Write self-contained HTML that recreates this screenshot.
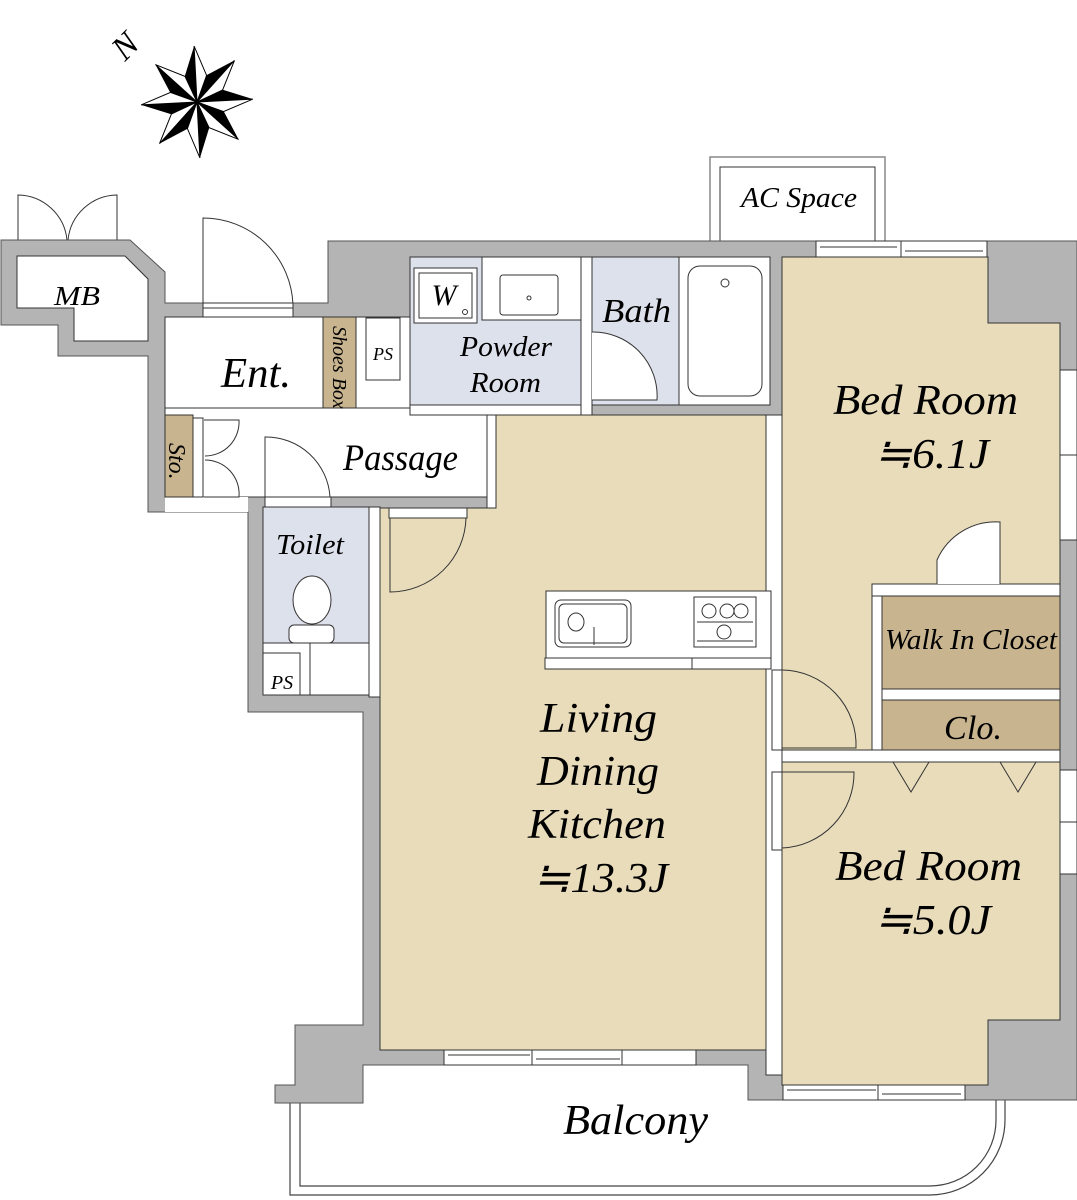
<!DOCTYPE html>
<html><head><meta charset="utf-8"><style>
html,body{margin:0;padding:0;background:#fff;}
svg{display:block}
text{font-family:"Liberation Serif",serif;font-style:italic;fill:#000}
</style></head><body>
<svg width="1077" height="1200" viewBox="0 0 1077 1200" xmlns="http://www.w3.org/2000/svg">
<!-- compass -->
<g transform="translate(197,102) rotate(-3)" stroke-linejoin="miter">
 <g><polygon points="0,0 0,-56 -11,-26" fill="#000"/><polygon points="0,0 0,-56 11,-26" fill="#fff" stroke="#000" stroke-width="1"/></g>
 <g transform="rotate(45)"><polygon points="0,0 0,-56 -11,-26" fill="#000"/><polygon points="0,0 0,-56 11,-26" fill="#fff" stroke="#000"/></g>
 <g transform="rotate(90)"><polygon points="0,0 0,-56 -11,-26" fill="#000"/><polygon points="0,0 0,-56 11,-26" fill="#fff" stroke="#000"/></g>
 <g transform="rotate(135)"><polygon points="0,0 0,-56 -11,-26" fill="#000"/><polygon points="0,0 0,-56 11,-26" fill="#fff" stroke="#000"/></g>
 <g transform="rotate(180)"><polygon points="0,0 0,-56 -11,-26" fill="#000"/><polygon points="0,0 0,-56 11,-26" fill="#fff" stroke="#000"/></g>
 <g transform="rotate(225)"><polygon points="0,0 0,-56 -11,-26" fill="#000"/><polygon points="0,0 0,-56 11,-26" fill="#fff" stroke="#000"/></g>
 <g transform="rotate(270)"><polygon points="0,0 0,-56 -11,-26" fill="#000"/><polygon points="0,0 0,-56 11,-26" fill="#fff" stroke="#000"/></g>
 <g transform="rotate(315)"><polygon points="0,0 0,-56 -11,-26" fill="#000"/><polygon points="0,0 0,-56 11,-26" fill="#fff" stroke="#000"/></g>
</g>
<text x="0" y="0" font-size="34" transform="translate(125,62) rotate(-45)">N</text>

<!-- AC space -->
<rect x="710" y="157" width="175" height="90" fill="#fff" stroke="#888" stroke-width="1.5"/>
<rect x="720" y="167" width="155" height="80" fill="#fff" stroke="#333" stroke-width="1"/>
<text x="741" y="207" font-size="28" textLength="116" lengthAdjust="spacingAndGlyphs">AC Space</text>

<!-- balcony -->
<path d="M290,1100 V1195 H930 A75,75 0 0 0 1005,1120 V1100" fill="#fff" stroke="#444" stroke-width="1.2"/>
<path d="M300,1100 V1186 H930 A66,66 0 0 0 996,1120 V1100" fill="none" stroke="#444" stroke-width="1.2"/>
<text x="563" y="1134" font-size="42" textLength="145" lengthAdjust="spacingAndGlyphs">Balcony</text>

<!-- MB doors -->
<rect x="17" y="240" width="100" height="16" fill="#fff" stroke="#333"/>
<line x1="17" y1="245" x2="117" y2="245" stroke="#333"/>
<path d="M18,240 V195 A50,50 0 0 1 67,240" fill="none" stroke="#333"/>
<path d="M117,240 V195 A50,50 0 0 0 68,240" fill="none" stroke="#333"/>
<path d="M203,305 V218 A90,90 0 0 1 293,305" fill="none" stroke="#333"/>

<!-- outer wall -->
<polygon points="1,240 130,240 165,272 165,303 328,303 328,241 1077,241 1077,1100 748,1100 748,1065 363,1065 363,1103 275,1103 275,1085 295,1085 295,1025 363,1025 363,712 248,712 248,512 148,512 148,356 58,356 58,325 1,325" fill="#b4b4b4" stroke="#555" stroke-width="1"/>
<rect x="203" y="303" width="90" height="14" fill="#fff" stroke="#333"/>
<line x1="203" y1="308" x2="293" y2="308" stroke="#333"/>

<!-- MB room -->
<polygon points="17,256 125,256 148,279 148,341 74,341 74,308 17,308" fill="#fff" stroke="#333"/>
<text x="54" y="305" font-size="27" textLength="46" lengthAdjust="spacingAndGlyphs">MB</text>

<!-- Ent + passage -->
<rect x="165" y="317" width="245" height="91" fill="#fff" stroke="#333"/>
<rect x="165" y="408" width="322" height="89" fill="#fff" stroke="#333"/>
<rect x="487" y="408" width="10" height="110" fill="#fff" stroke="#333"/>
<rect x="165" y="497" width="83" height="15" fill="#fff"/>
<rect x="323" y="317" width="33" height="91" fill="#c8b48f" stroke="#333"/>
<text font-size="20" transform="translate(333,326) rotate(90)">Shoes Box</text>
<rect x="366" y="318" width="34" height="62" fill="#fff" stroke="#333"/>
<text x="383" y="360" font-size="18" text-anchor="middle">PS</text>
<text x="221" y="387" font-size="42" textLength="70" lengthAdjust="spacingAndGlyphs">Ent.</text>
<rect x="165" y="415" width="28" height="82" fill="#c8b48f" stroke="#333"/>
<text font-size="24" transform="translate(169,443) rotate(90)">Sto.</text>
<rect x="193" y="418" width="10" height="79" fill="#fff" stroke="#333"/>
<path d="M204,420 H239 A34,34 0 0 1 205,456 M204,497 H239 A34,34 0 0 0 205,460" fill="none" stroke="#333"/>
<path d="M265,497 V437 A64,64 0 0 1 330,497" fill="none" stroke="#333"/>
<text x="343" y="470" font-size="37" textLength="115" lengthAdjust="spacingAndGlyphs">Passage</text>

<!-- Toilet -->
<rect x="263" y="507" width="106" height="173" fill="#dde1ec" stroke="#333"/>
<rect x="265" y="497" width="66" height="10" fill="#fff" stroke="#333"/>
<rect x="263" y="643" width="106" height="52" fill="#fff" stroke="#333"/>
<rect x="263" y="653" width="37" height="42" fill="#fff" stroke="#333"/>
<line x1="310" y1="643" x2="310" y2="695" stroke="#333"/>
<text x="282" y="689" font-size="20" text-anchor="middle">PS</text>
<text x="276" y="554" font-size="28" textLength="68" lengthAdjust="spacingAndGlyphs">Toilet</text>
<ellipse cx="312" cy="600" rx="19" ry="24" fill="#fff" stroke="#333"/>
<rect x="289" y="625" width="45" height="18" rx="5" fill="#fff" stroke="#333"/>
<rect x="369" y="507" width="11" height="190" fill="#fff" stroke="#333"/>

<!-- Powder room -->
<rect x="410" y="257" width="171" height="148" fill="#dde1ec" stroke="#333"/>
<rect x="410" y="405" width="171" height="10" fill="#fff" stroke="#333"/>
<rect x="414" y="268" width="63" height="55" fill="#fff" stroke="#333"/>
<rect x="419" y="273" width="53" height="45" fill="#fff" stroke="#333"/>
<text x="444" y="305" font-size="30" text-anchor="middle">W</text>
<circle cx="465" cy="312" r="2.5" fill="none" stroke="#333"/>
<rect x="482" y="257" width="99" height="63" fill="#fff" stroke="#333"/>
<rect x="500" y="275" width="58" height="40" rx="3" fill="#fff" stroke="#333"/>
<circle cx="529" cy="298" r="2" fill="none" stroke="#333"/>
<text x="460" y="356" font-size="28" textLength="92" lengthAdjust="spacingAndGlyphs">Powder</text>
<text x="470" y="392" font-size="28" textLength="71" lengthAdjust="spacingAndGlyphs">Room</text>
<rect x="581" y="257" width="11" height="158" fill="#fff" stroke="#333"/>
<rect x="592" y="257" width="87" height="148" fill="#dde1ec" stroke="#333"/>
<path d="M592,332 A64,64 0 0 1 657,400 H592" fill="#fff" stroke="#333"/>
<text x="602" y="322" font-size="34" textLength="69" lengthAdjust="spacingAndGlyphs">Bath</text>
<rect x="679" y="257" width="91" height="148" fill="#fff" stroke="#333"/>
<rect x="688" y="266" width="74" height="130" rx="12" fill="#fff" stroke="#333"/>
<circle cx="725" cy="283" r="4" fill="none" stroke="#333"/>

<!-- LDK -->
<polygon points="380,508 496,508 496,415 766,415 766,1050 380,1050" fill="#e8dcbb" stroke="#333"/>
<rect x="766" y="415" width="16" height="660" fill="#fff" stroke="#333"/>
<rect x="389" y="508" width="78" height="10" fill="#fff" stroke="#333"/>
<path d="M466,518 A76,76 0 0 1 390,592 V518" fill="none" stroke="#333"/>
<rect x="546" y="591" width="225" height="67" fill="#fff" stroke="#333"/>
<rect x="545" y="658" width="226" height="11" fill="#fff" stroke="#333"/>
<line x1="692" y1="658" x2="692" y2="669" stroke="#333"/>
<rect x="555" y="600" width="76" height="47" rx="6" fill="#fff" stroke="#333"/>
<rect x="559" y="604" width="68" height="39" rx="5" fill="none" stroke="#333"/>
<ellipse cx="576" cy="622" rx="8" ry="9" fill="none" stroke="#333"/>
<line x1="594" y1="627" x2="594" y2="645" stroke="#333"/>
<rect x="694" y="597" width="62" height="50" fill="#fff" stroke="#333"/>
<circle cx="709" cy="611" r="7" fill="none" stroke="#333"/><circle cx="727" cy="611" r="7" fill="none" stroke="#333"/><circle cx="741" cy="611" r="7" fill="none" stroke="#333"/><circle cx="724" cy="632" r="7" fill="none" stroke="#333"/>
<line x1="697" y1="622" x2="753" y2="622" stroke="#333"/><line x1="697" y1="641" x2="753" y2="641" stroke="#333"/>
<text x="540" y="732" font-size="42" textLength="117" lengthAdjust="spacingAndGlyphs">Living</text>
<text x="537" y="785" font-size="42" textLength="122" lengthAdjust="spacingAndGlyphs">Dining</text>
<text x="528" y="838" font-size="42" textLength="138" lengthAdjust="spacingAndGlyphs">Kitchen</text>
<text x="533" y="892" font-size="42" textLength="135" lengthAdjust="spacingAndGlyphs">≒13.3J</text>

<!-- Bedroom 1 -->
<polygon points="782,257 988,257 988,323 1060,323 1060,584 872,584 872,750 782,750" fill="#e8dcbb" stroke="#333"/>
<rect x="872" y="584" width="188" height="12" fill="#fff" stroke="#333"/>
<rect x="872" y="596" width="10" height="166" fill="#fff" stroke="#333"/>
<path d="M937,584 V560 A64,64 0 0 1 1000,522 V584" fill="#fff" stroke="#333"/>
<rect x="882" y="596" width="178" height="93" fill="#c8b48f" stroke="#333"/>
<rect x="882" y="689" width="178" height="11" fill="#fff" stroke="#333"/>
<rect x="882" y="700" width="178" height="50" fill="#c8b48f" stroke="#333"/>
<text x="885" y="649" font-size="28" textLength="172" lengthAdjust="spacingAndGlyphs">Walk In Closet</text>
<text x="944" y="739" font-size="34" textLength="58" lengthAdjust="spacingAndGlyphs">Clo.</text>
<text x="833" y="414" font-size="42" textLength="185" lengthAdjust="spacingAndGlyphs">Bed Room</text>
<text x="874" y="468" font-size="42" textLength="115" lengthAdjust="spacingAndGlyphs">≒6.1J</text>
<path d="M782,670 A75,75 0 0 1 856,748 H782" fill="none" stroke="#333"/>
<rect x="772" y="670" width="10" height="80" fill="#fff" stroke="#333"/>

<!-- Bedroom 2 -->
<rect x="782" y="750" width="278" height="12" fill="#fff" stroke="#333"/>
<polygon points="782,762 1060,762 1060,1020 988,1020 988,1085 782,1085" fill="#e8dcbb" stroke="#333"/>
<path d="M893,762 L911,792 L929,762 M1000,762 L1018,792 L1036,762" fill="none" stroke="#333"/>
<path d="M782,772 H854 A75,75 0 0 1 782,848" fill="none" stroke="#333"/>
<rect x="772" y="772" width="10" height="78" fill="#fff" stroke="#333"/>
<text x="835" y="880" font-size="42" textLength="187" lengthAdjust="spacingAndGlyphs">Bed Room</text>
<text x="874" y="934" font-size="42" textLength="117" lengthAdjust="spacingAndGlyphs">≒5.0J</text>

<!-- windows -->
<g fill="#fff" stroke="#333">
<rect x="816" y="241" width="85" height="16"/><rect x="901" y="241" width="86" height="16"/>
<line x1="820" y1="247" x2="897" y2="247"/><line x1="905" y1="251" x2="983" y2="251"/>
<rect x="1060" y="370" width="17" height="85"/><rect x="1060" y="455" width="17" height="85"/>
<rect x="1060" y="770" width="17" height="52"/><rect x="1060" y="822" width="17" height="52"/>
<rect x="444" y="1050" width="88" height="15"/><rect x="532" y="1050" width="90" height="15"/><rect x="622" y="1050" width="74" height="15"/>
<line x1="448" y1="1055" x2="530" y2="1055"/><line x1="536" y1="1059" x2="620" y2="1059"/>
<rect x="783" y="1085" width="95" height="15"/><rect x="878" y="1085" width="87" height="15"/>
<line x1="787" y1="1090" x2="876" y2="1090"/><line x1="882" y1="1094" x2="961" y2="1094"/>
</g>
</svg>
</body></html>
